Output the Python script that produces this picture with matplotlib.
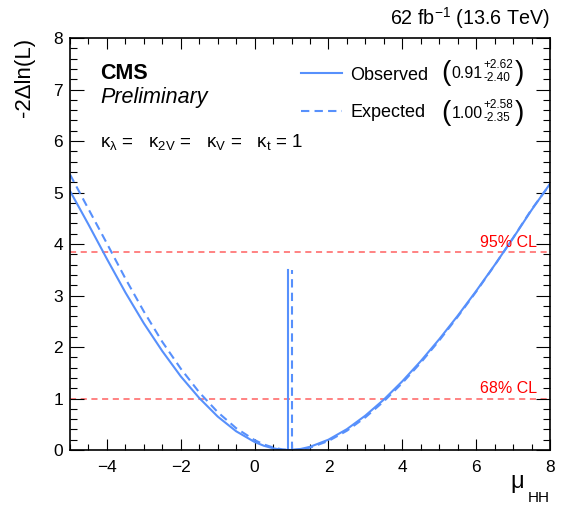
import matplotlib
matplotlib.use("Agg")
import matplotlib.pyplot as plt
from matplotlib.ticker import MultipleLocator

plt.rcParams['font.family'] = ['Liberation Sans', 'DejaVu Sans']
plt.rcParams['mathtext.fontset'] = 'custom'
plt.rcParams['mathtext.rm'] = 'Liberation Sans'
plt.rcParams['mathtext.it'] = 'Liberation Sans:italic'
plt.rcParams['mathtext.bf'] = 'Liberation Sans:bold'
plt.rcParams['mathtext.default'] = 'regular'

# likelihood scan
mu_obs = [-5.0, -4.5, -4.0, -3.5, -3.0, -2.5, -2.0, -1.5, -1.0, -0.5, 0.0, 0.25, 0.5, 0.75, 0.91,
          1.0, 1.25, 1.5, 2.0, 2.5, 3.0, 3.5, 4.0, 4.5, 5.0, 5.5, 6.0, 6.5, 7.0, 7.5, 8.0]
nll_obs = [5.03, 4.38, 3.71, 3.06, 2.46, 1.92, 1.43, 1.01, 0.65, 0.364, 0.156, 0.083, 0.033, 0.005, 0.0,
           0.0015, 0.021, 0.062, 0.201, 0.406, 0.669, 0.98, 1.335, 1.727, 2.152, 2.607, 3.088, 3.592, 4.116, 4.66, 5.17]

mu_exp = [-5.0, -4.5, -4.0, -3.5, -3.0, -2.5, -2.0, -1.5, -1.0, -0.5, 0.0, 0.25, 0.5, 0.75, 1.0,
          1.25, 1.5, 2.0, 2.5, 3.0, 3.5, 4.0, 4.5, 5.0, 5.5, 6.0, 6.5, 7.0, 7.5, 8.0]
nll_exp = [5.35, 4.68, 4.01, 3.33, 2.69, 2.10, 1.58, 1.12, 0.736, 0.424, 0.193, 0.108, 0.050, 0.012, 0.0,
           0.012, 0.046, 0.176, 0.375, 0.635, 0.946, 1.302, 1.697, 2.127, 2.588, 3.075, 3.586, 4.119, 4.672, 5.16]

best_obs = 0.91
best_exp = 1.00
best_height = 3.5
cl_levels = [1.0, 3.84]
cl_names = ["68% CL", "95% CL"]

leg_names = ["Observed", "Expected"]
leg_best = ["0.91", "1.00"]
leg_up = ["+2.62", "+2.58"]
leg_dn = ["-2.40", "-2.35"]

blue = '#5790fc'

fig = plt.figure(figsize=(5.8, 5.19), dpi=100)
ax = fig.add_axes([0.1207, 0.1329, 0.8276, 0.7938])

for lev, name in zip(cl_levels, cl_names):
    ax.axhline(lev, color='#ff6060', lw=1.1, dashes=(4, 3), zorder=1)
    ax.text(7.65, lev + 0.05, name, color='red', fontsize=11.5, ha='right', va='bottom')

l_obs, = ax.plot(mu_obs, nll_obs, color=blue, lw=1.5)
l_exp, = ax.plot(mu_exp, nll_exp, color=blue, lw=1.5, dashes=(4, 2.5))
ax.plot([best_obs, best_obs], [0, best_height], color=blue, lw=1.5)
ax.plot([best_exp, best_exp], [0, best_height], color=blue, lw=1.5, dashes=(4, 2.5))

ax.set_xlim(-5, 8)
ax.set_ylim(0, 8)
ax.xaxis.set_major_locator(MultipleLocator(2))
ax.xaxis.set_minor_locator(MultipleLocator(0.5))
ax.yaxis.set_major_locator(MultipleLocator(1))
ax.yaxis.set_minor_locator(MultipleLocator(0.2))
ax.tick_params(which='both', direction='in', top=True, right=True, labelsize=12.5, width=0.8)
ax.tick_params(axis='x', which='major', length=8, pad=7)
ax.tick_params(axis='x', which='minor', length=4)
ax.tick_params(axis='y', which='major', length=10, pad=5)
ax.tick_params(axis='y', which='minor', length=5)
for s in ax.spines.values():
    s.set_linewidth(1.2)

# axis titles
ax.set_ylabel('-2\u0394ln(L)', fontsize=16, loc='top', labelpad=13)
ax.text(0.946, -0.092, '\u03bc', transform=ax.transAxes, fontsize=17, ha='right', va='baseline')
ax.text(1.0, -0.126, 'HH', transform=ax.transAxes, fontsize=11, ha='right', va='baseline')

ax.text(1.0, 1.017, r'62 fb$^{-1}$ (13.6 TeV)', transform=ax.transAxes,
        ha='right', va='bottom', fontsize=14.2)
ax.text(0.0625, 0.915, 'CMS', transform=ax.transAxes, fontsize=15.5, fontweight='bold', va='center')
ax.text(0.0625, 0.855, 'Preliminary', transform=ax.transAxes, fontsize=15.5, style='italic', va='center')
ax.text(0.0625, 0.748, r'$\kappa_{\lambda}$ =   $\kappa_{2V}$ =   $\kappa_{V}$ =   $\kappa_{t}$ = 1',
        transform=ax.transAxes, fontsize=13.5, va='center')

# legend: line samples + names, then the best-fit values in big brackets
ax.legend([l_obs, l_exp], leg_names,
          loc='center left', bbox_to_anchor=(0.462, 0.864), frameon=False,
          fontsize=13, handlelength=2.3, handletextpad=0.45, labelspacing=1.15,
          borderpad=0.0)
row_y = [0.914, 0.817]
for yy, b, up, dn in zip(row_y, leg_best, leg_up, leg_dn):
    ax.text(0.783, yy, '(', transform=ax.transAxes, fontsize=20, ha='center', va='center')
    ax.text(0.795, yy, b, transform=ax.transAxes, fontsize=11.5, ha='left', va='center')
    ax.text(0.862, yy + 0.020, up, transform=ax.transAxes, fontsize=8.5, ha='left', va='center')
    ax.text(0.862, yy - 0.012, dn, transform=ax.transAxes, fontsize=8.5, ha='left', va='center')
    ax.text(0.937, yy, ')', transform=ax.transAxes, fontsize=20, ha='center', va='center')

fig.savefig('out.png', dpi=100)
